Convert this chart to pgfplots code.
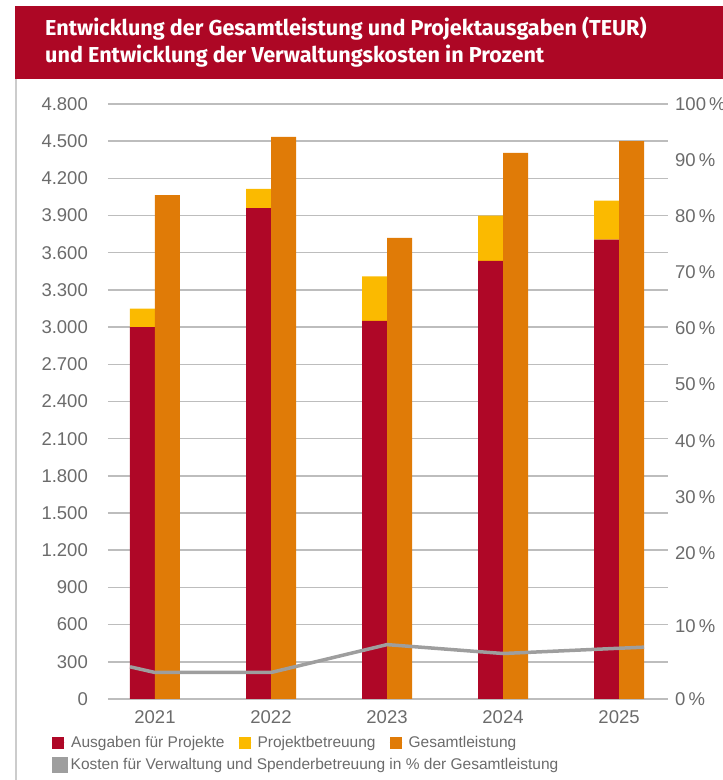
\documentclass[border=0pt]{standalone}
\usepackage{fontspec}
\usepackage{pgfplots}
\pgfplotsset{compat=1.18}
\setmainfont{Liberation Sans}
\newfontfamily\titlefont{Fira Sans}
\definecolor{cRed}{HTML}{AF0727}
\definecolor{cBand}{HTML}{AD0725}
\definecolor{cYellow}{HTML}{FBBA00}
\definecolor{cOrange}{HTML}{E07B07}
\definecolor{cLine}{HTML}{9E9E9E}
\definecolor{cGrid}{HTML}{BDBDBD}
\definecolor{cText}{HTML}{6B6B6B}
\definecolor{cBorder}{HTML}{CCCCCC}

\pgfplotsset{
  base/.style={
    scale only axis, width=560pt, height=595pt,
    at={(108pt,81pt)}, anchor=south west,
    xmin=-0.405, xmax=4.422, ymin=0, ymax=4800,
    axis line style={draw=none}, major tick length=0pt,
    tick style={draw=none},
    /pgf/number format/assume math mode=true,
    ticklabel style={font=\fontsize{18.5}{22}\selectfont, text=cText},
  },
  sqlegend/.style={legend image code/.code={\fill[##1] (0pt,-6pt) rectangle (12pt,6pt); \path (0pt,0pt) -- (13pt,0pt);}},
}

\begin{document}
\begin{tikzpicture}
\path[use as bounding box] (0,0) rectangle (723pt,780pt);
\fill[cBand] (15pt,701pt) rectangle (723pt,774pt);
\draw[cBorder, line width=1.2pt] (16pt,0pt) -- (16pt,701pt);
\node[anchor=base west, text=white, font=\titlefont\bfseries\fontsize{21.6}{26}\selectfont, inner sep=0pt] at (45pt,744pt) {Entwicklung der Gesamtleistung und Projektausgaben (TEUR)};
\node[anchor=base west, text=white, font=\titlefont\bfseries\fontsize{21.6}{26}\selectfont, inner sep=0pt] at (45pt,717pt) {und Entwicklung der Verwaltungskosten in Prozent};

% Axis 1: left axis, stacked bars
\begin{axis}[base,
  ybar stacked, bar width=25pt, bar shift=-12.5pt,
  every axis plot post/.append style={sqlegend},
  ytick={0,300,...,4800},
  /pgf/number format/1000 sep={.},
  scaled y ticks=false,
  ymajorgrids, grid style={cGrid, line width=1.5pt},
  xtick={0,1,2,3,4}, xticklabels={2021,2022,2023,2024,2025},
  yticklabel style={anchor=east, inner sep=0pt, xshift=-20pt},
  xticklabel style={anchor=north, inner sep=0pt, yshift=-11.7pt},
  legend style={at={(axis description cs:0,0)}, anchor=west,
    xshift=-56pt, yshift=-44pt, draw=none, fill=none, inner sep=0pt,
    font=\fontsize{15.5}{18}\selectfont, text=cText,
    /tikz/every even column/.append style={column sep=12pt},
    /tikz/every odd column/.append style={column sep=4pt}},
  legend columns=-1,
]
\addplot[fill=cRed, draw=none, sqlegend] coordinates {(0,3000) (1,3960) (2,3050) (3,3535) (4,3705)};
\addlegendentry{Ausgaben für Projekte}
\addplot[fill=cYellow, draw=none, sqlegend] coordinates {(0,150) (1,155) (2,360) (3,365) (4,315)};
\addlegendentry{Projektbetreuung}
\addlegendimage{fill=cOrange, draw=none, sqlegend}
\addlegendentry{Gesamtleistung}
\end{axis}

% Axis 2: Gesamtleistung bars
\begin{axis}[base,
  ybar, bar width=25pt, bar shift=12.5pt,
  ytick=\empty, xtick=\empty,
]
\addplot[fill=cOrange, draw=none] coordinates {(0,4065) (1,4535) (2,3720) (3,4405) (4,4500)};
\end{axis}

% Axis 3: right axis, percent line
\begin{axis}[base,
  ymin=0, ymax=100,
  y coord trafo/.code={\pgfmathparse{#1<=20 ? #1*58.9 : 1178+(#1-20)*45.275}},
  y coord inv trafo/.code={\pgfmathparse{#1<=1178 ? #1/58.9 : 20+(#1-1178)/45.275}},
  ytick={0,10,20,30,40,50,60,70,80,90,100},
  yticklabels={0\,\%,10\,\%,20\,\%,30\,\%,40\,\%,50\,\%,60\,\%,70\,\%,80\,\%,90\,\%,100\,\%},
  yticklabel pos=right,
  yticklabel style={anchor=west, inner sep=0pt, xshift=7pt},
  xtick=\empty,
  every axis plot post/.append style={sqlegend},
  legend style={at={(axis description cs:0,0)}, anchor=west,
    xshift=-56pt, yshift=-66pt, draw=none, fill=none, inner sep=0pt,
    font=\fontsize{15.5}{18}\selectfont, text=cText},
]
\addplot[color=cLine, line width=3.5pt, no markers] coordinates {(-0.215,4.41) (0,3.63) (1,3.63) (2,7.45) (3,6.23) (4,6.95) (4.215,7.1)};
\addlegendentry{Kosten für Verwaltung und Spenderbetreuung in \% der Gesamtleistung}
\end{axis}
\end{tikzpicture}
\end{document}
